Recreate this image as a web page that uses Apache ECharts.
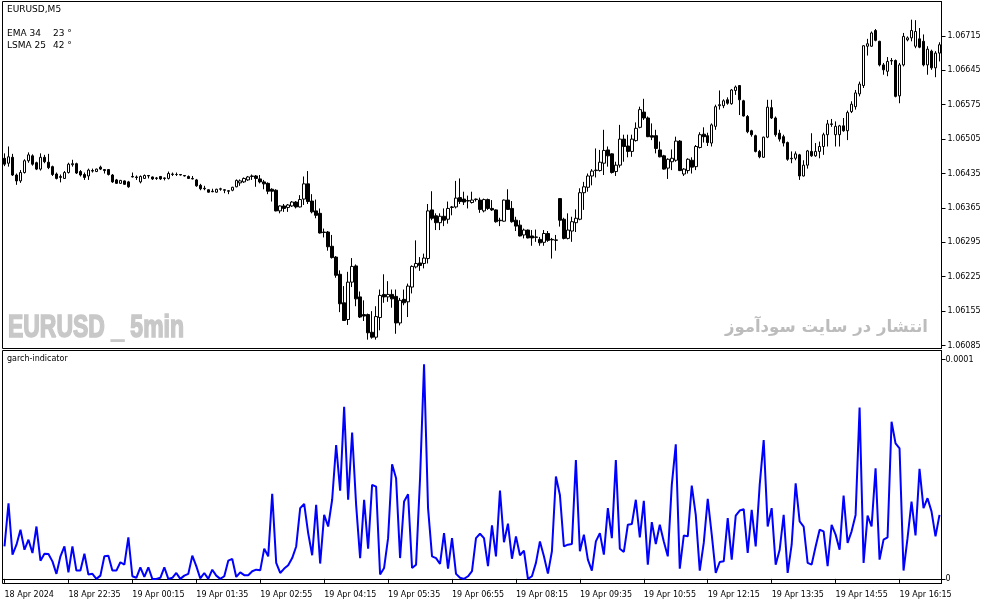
<!DOCTYPE html>
<html>
<head>
<meta charset="utf-8">
<script src="https://cdn.jsdelivr.net/npm/echarts@6/dist/echarts.min.js"></script>
<style>
  html, body { margin: 0; padding: 0; background: #fff; }
  #chartDiv { width: 987px; height: 605px; }
</style>
</head>
<body>
<div id="chartDiv"></div>
<script>
// EURUSD M5 candles: [open, close, low, high]
const ohlc = [
  [1.06466,1.06454,1.06450,1.06476],[1.06456,1.06469,1.06449,1.06490],[1.06468,1.06432,1.06430,1.06475],[1.06432,1.06420,1.06412,1.06435],
  [1.06420,1.06437,1.06416,1.06442],[1.06437,1.06461,1.06435,1.06464],[1.06461,1.06473,1.06457,1.06478],[1.06471,1.06454,1.06451,1.06474],
  [1.06457,1.06444,1.06442,1.06459],[1.06444,1.06468,1.06441,1.06476],[1.06468,1.06459,1.06456,1.06473],[1.06458,1.06447,1.06444,1.06475],
  [1.06449,1.06433,1.06430,1.06451],[1.06434,1.06425,1.06423,1.06437],[1.06427,1.06429,1.06417,1.06433],[1.06425,1.06437,1.06424,1.06440],
  [1.06437,1.06454,1.06435,1.06457],[1.06453,1.06455,1.06449,1.06463],[1.06455,1.06436,1.06434,1.06457],[1.06439,1.06432,1.06429,1.06442],
  [1.06433,1.06427,1.06422,1.06437],[1.06430,1.06442,1.06422,1.06445],[1.06441,1.06440,1.06437,1.06445],[1.06439,1.06444,1.06438,1.06445],
  [1.06448,1.06444,1.06442,1.06451],[1.06443,1.06441,1.06435,1.06444],[1.06443,1.06433,1.06431,1.06444],[1.06432,1.06418,1.06416,1.06434],
  [1.06422,1.06415,1.06414,1.06424],[1.06415,1.06421,1.06414,1.06422],[1.06420,1.06413,1.06412,1.06421],[1.06418,1.06408,1.06406,1.06420],
  [1.06429,1.06428,1.06427,1.06437],[1.06428,1.06427,1.06422,1.06431],[1.06418,1.06429,1.06415,1.06431],[1.06425,1.06431,1.06424,1.06433],
  [1.06431,1.06430,1.06425,1.06432],[1.06428,1.06424,1.06422,1.06429],[1.06425,1.06426,1.06422,1.06428],[1.06429,1.06424,1.06422,1.06430],
  [1.06426,1.06425,1.06421,1.06427],[1.06425,1.06435,1.06423,1.06439],[1.06433,1.06434,1.06430,1.06437],[1.06433,1.06433,1.06430,1.06437],
  [1.06433,1.06432,1.06431,1.06434],[1.06431,1.06430,1.06429,1.06432],[1.06429,1.06425,1.06424,1.06431],[1.06425,1.06424,1.06423,1.06430],
  [1.06422,1.06410,1.06408,1.06424],[1.06411,1.06404,1.06401,1.06414],[1.06405,1.06404,1.06401,1.06410],[1.06402,1.06397,1.06396,1.06403],
  [1.06399,1.06398,1.06397,1.06404],[1.06397,1.06403,1.06396,1.06404],[1.06403,1.06404,1.06400,1.06406],[1.06402,1.06401,1.06395,1.06403],
  [1.06400,1.06399,1.06393,1.06401],[1.06401,1.06407,1.06399,1.06408],[1.06408,1.06421,1.06407,1.06423],[1.06416,1.06420,1.06410,1.06423],
  [1.06418,1.06425,1.06416,1.06427],[1.06422,1.06428,1.06420,1.06430],[1.06429,1.06430,1.06422,1.06433],[1.06430,1.06425,1.06408,1.06432],
  [1.06424,1.06418,1.06415,1.06432],[1.06418,1.06414,1.06403,1.06422],[1.06415,1.06399,1.06393,1.06417],[1.06403,1.06399,1.06378,1.06405],
  [1.06401,1.06359,1.06358,1.06403],[1.06359,1.06369,1.06354,1.06370],[1.06369,1.06364,1.06357,1.06373],[1.06366,1.06371,1.06357,1.06373],
  [1.06369,1.06377,1.06367,1.06379],[1.06377,1.06367,1.06364,1.06379],[1.06367,1.06382,1.06366,1.06391],[1.06383,1.06414,1.06371,1.06429],
  [1.06414,1.06378,1.06373,1.06440],[1.06379,1.06357,1.06354,1.06393],[1.06359,1.06350,1.06344,1.06382],[1.06354,1.06314,1.06313,1.06364],
  [1.06316,1.06315,1.06305,1.06323],[1.06316,1.06286,1.06278,1.06318],[1.06287,1.06264,1.06262,1.06310],[1.06265,1.06228,1.06223,1.06267],
  [1.06230,1.06170,1.06153,1.06238],[1.06172,1.06136,1.06135,1.06206],[1.06138,1.06214,1.06127,1.06235],[1.06214,1.06246,1.06204,1.06263],
  [1.06247,1.06180,1.06165,1.06250],[1.06184,1.06143,1.06141,1.06195],[1.06148,1.06145,1.06135,1.06177],[1.06148,1.06111,1.06097,1.06150],
  [1.06112,1.06102,1.06099,1.06155],[1.06102,1.06144,1.06097,1.06165],[1.06142,1.06187,1.06116,1.06199],[1.06189,1.06184,1.06172,1.06230],
  [1.06184,1.06189,1.06174,1.06216],[1.06189,1.06180,1.06162,1.06199],[1.06185,1.06131,1.06109,1.06199],[1.06131,1.06177,1.06126,1.06182],
  [1.06179,1.06172,1.06167,1.06199],[1.06174,1.06206,1.06143,1.06211],[1.06204,1.06246,1.06191,1.06248],[1.06245,1.06252,1.06242,1.06299],
  [1.06253,1.06248,1.06237,1.06265],[1.06252,1.06263,1.06242,1.06272],[1.06262,1.06359,1.06252,1.06373],[1.06361,1.06344,1.06340,1.06399],
  [1.06349,1.06335,1.06320,1.06354],[1.06335,1.06348,1.06320,1.06354],[1.06348,1.06340,1.06328,1.06364],[1.06342,1.06364,1.06333,1.06378],
  [1.06366,1.06367,1.06350,1.06369],[1.06367,1.06385,1.06364,1.06420],[1.06386,1.06378,1.06373,1.06425],[1.06383,1.06377,1.06371,1.06398],
  [1.06380,1.06379,1.06364,1.06390],[1.06376,1.06381,1.06374,1.06398],[1.06382,1.06383,1.06378,1.06384],[1.06381,1.06362,1.06355,1.06386],
  [1.06359,1.06382,1.06356,1.06384],[1.06382,1.06364,1.06361,1.06384],[1.06364,1.06361,1.06359,1.06381],[1.06361,1.06337,1.06335,1.06362],
  [1.06340,1.06339,1.06328,1.06345],[1.06338,1.06381,1.06337,1.06382],[1.06381,1.06362,1.06361,1.06403],[1.06364,1.06337,1.06335,1.06379],
  [1.06340,1.06328,1.06318,1.06347],[1.06330,1.06308,1.06307,1.06340],[1.06310,1.06320,1.06303,1.06323],[1.06320,1.06304,1.06303,1.06321],
  [1.06308,1.06304,1.06288,1.06320],[1.06305,1.06306,1.06296,1.06321],[1.06301,1.06294,1.06288,1.06306],[1.06295,1.06313,1.06288,1.06320],
  [1.06313,1.06299,1.06296,1.06318],[1.06301,1.06300,1.06262,1.06304],[1.06299,1.06300,1.06278,1.06310],[1.06384,1.06340,1.06327,1.06385],
  [1.06342,1.06303,1.06301,1.06345],[1.06303,1.06320,1.06301,1.06354],[1.06318,1.06337,1.06296,1.06347],[1.06335,1.06344,1.06316,1.06362],
  [1.06342,1.06396,1.06340,1.06405],[1.06396,1.06408,1.06361,1.06418],[1.06407,1.06430,1.06398,1.06435],[1.06430,1.06440,1.06411,1.06444],
  [1.06441,1.06442,1.06427,1.06486],[1.06441,1.06458,1.06439,1.06483],[1.06456,1.06482,1.06432,1.06524],[1.06483,1.06471,1.06449,1.06490],
  [1.06475,1.06437,1.06435,1.06476],[1.06439,1.06452,1.06430,1.06459],[1.06452,1.06505,1.06447,1.06534],[1.06505,1.06490,1.06459,1.06514],
  [1.06491,1.06480,1.06468,1.06514],[1.06480,1.06505,1.06469,1.06514],[1.06502,1.06527,1.06500,1.06539],[1.06529,1.06565,1.06527,1.06571],
  [1.06560,1.06548,1.06544,1.06587],[1.06548,1.06510,1.06509,1.06551],[1.06512,1.06509,1.06503,1.06537],[1.06512,1.06486,1.06476,1.06524],
  [1.06483,1.06469,1.06468,1.06500],[1.06471,1.06444,1.06443,1.06473],[1.06446,1.06464,1.06424,1.06466],[1.06459,1.06466,1.06442,1.06484],
  [1.06462,1.06501,1.06459,1.06510],[1.06501,1.06441,1.06440,1.06503],[1.06434,1.06444,1.06430,1.06446],[1.06441,1.06464,1.06435,1.06466],
  [1.06462,1.06448,1.06435,1.06468],[1.06449,1.06490,1.06442,1.06493],[1.06488,1.06514,1.06486,1.06519],[1.06515,1.06510,1.06498,1.06529],
  [1.06512,1.06498,1.06491,1.06518],[1.06497,1.06534,1.06490,1.06537],[1.06531,1.06571,1.06524,1.06575],[1.06573,1.06575,1.06565,1.06604],
  [1.06573,1.06583,1.06568,1.06586],[1.06585,1.06578,1.06575,1.06590],[1.06577,1.06605,1.06575,1.06607],[1.06604,1.06611,1.06595,1.06614],
  [1.06614,1.06585,1.06554,1.06615],[1.06583,1.06552,1.06551,1.06585],[1.06551,1.06520,1.06517,1.06554],[1.06522,1.06514,1.06510,1.06524],
  [1.06512,1.06480,1.06478,1.06514],[1.06480,1.06469,1.06466,1.06483],[1.06468,1.06509,1.06467,1.06510],[1.06509,1.06570,1.06507,1.06585],
  [1.06569,1.06548,1.06546,1.06585],[1.06548,1.06514,1.06510,1.06551],[1.06517,1.06505,1.06500,1.06524],[1.06510,1.06497,1.06490,1.06514],
  [1.06498,1.06464,1.06461,1.06500],[1.06466,1.06465,1.06456,1.06480],[1.06466,1.06475,1.06462,1.06480],[1.06473,1.06430,1.06422,1.06475],
  [1.06430,1.06452,1.06429,1.06462],[1.06452,1.06481,1.06445,1.06483],[1.06480,1.06471,1.06469,1.06517],[1.06471,1.06480,1.06469,1.06497],
  [1.06480,1.06490,1.06466,1.06500],[1.06490,1.06514,1.06473,1.06518],[1.06514,1.06536,1.06490,1.06544],[1.06536,1.06535,1.06530,1.06546],
  [1.06514,1.06531,1.06490,1.06541],[1.06514,1.06532,1.06490,1.06534],[1.06532,1.06522,1.06520,1.06548],[1.06522,1.06559,1.06503,1.06563],
  [1.06561,1.06576,1.06558,1.06582],[1.06571,1.06599,1.06565,1.06605],[1.06597,1.06617,1.06592,1.06622],[1.06614,1.06695,1.06609,1.06696],
  [1.06694,1.06699,1.06675,1.06709],[1.06694,1.06721,1.06693,1.06724],[1.06726,1.06706,1.06704,1.06729],[1.06704,1.06656,1.06653,1.06705],
  [1.06656,1.06646,1.06636,1.06660],[1.06643,1.06663,1.06633,1.06672],[1.06665,1.06664,1.06656,1.06670],[1.06665,1.06592,1.06590,1.06667],
  [1.06593,1.06656,1.06578,1.06660],[1.06656,1.06714,1.06653,1.06721],[1.06707,1.06711,1.06704,1.06714],[1.06711,1.06726,1.06704,1.06748],
  [1.06694,1.06724,1.06690,1.06747],[1.06709,1.06692,1.06690,1.06731],[1.06704,1.06656,1.06653,1.06718],[1.06656,1.06688,1.06636,1.06694],
  [1.06684,1.06650,1.06646,1.06687],[1.06650,1.06680,1.06631,1.06684],[1.06680,1.06697,1.06663,1.06702]
];

// garch-indicator values, one per candle
const garch = [
  14.8e-6,34.5e-6,11.1e-6,15.6e-6,22.4e-6,13.3e-6,17.9e-6,11.8e-6,23.9e-6,8.3e-6,
  11.5e-6,11.4e-6,8.0e-6,2.3e-6,10.3e-6,14.8e-6,3.0e-6,14.8e-6,3.8e-6,3.8e-6,
  11.5e-6,2.0e-6,2.3e-6,0,1.5e-6,10.3e-6,10.6e-6,3.8e-6,3.8e-6,7.6e-6,
  6.5e-6,18.9e-6,1.2e-6,0.5e-6,5.3e-6,0.9e-6,5.3e-6,0,0,0.5e-6,
  5.3e-6,0,0.5e-6,2.7e-6,0,1.5e-6,2.3e-6,10.6e-6,5.8e-6,0.2e-6,
  2.7e-6,0,4.2e-6,1.5e-6,0,1.2e-6,8.3e-6,9.1e-6,0.9e-6,3.0e-6,
  1.7e-6,1.7e-6,3.5e-6,4.2e-6,3.9e-6,13.8e-6,10.3e-6,38.8e-6,7.3e-6,2.7e-6,
  4.7e-6,6.2e-6,9.5e-6,14.8e-6,32.3e-6,34.2e-6,20.9e-6,10.8e-6,33.8e-6,7.0e-6,
  29.2e-6,23.9e-6,36.1e-6,61.1e-6,40.2e-6,78.5e-6,36.1e-6,66.8e-6,33.8e-6,9.5e-6,
  36.1e-6,13.8e-6,42.9e-6,42.1e-6,2.0e-6,5.0e-6,18.6e-6,52.3e-6,45.9e-6,9.5e-6,
  35.3e-6,38.6e-6,5.0e-6,6.5e-6,45.9e-6,97.9e-6,32.3e-6,10.3e-6,9.5e-6,6.8e-6,
  20.9e-6,4.7e-6,18.6e-6,2.3e-6,0.5e-6,0,1.2e-6,3.5e-6,18.6e-6,
  20.6e-6,18.6e-6,5.8e-6,24.4e-6,10.3e-6,40.3e-6,16.7e-6,25.2e-6,9.2e-6,19.4e-6,
  10.8e-6,12.9e-6,0,1.2e-6,7.3e-6,17.1e-6,10.3e-6,2.4e-6,12.6e-6,46.7e-6,
  38.3e-6,14.8e-6,15.6e-6,15.9e-6,54.2e-6,12.6e-6,20.2e-6,8.8e-6,3.8e-6,17.1e-6,
  20.9e-6,11.1e-6,32.3e-6,18.6e-6,54.2e-6,13.8e-6,12.3e-6,24.7e-6,25.0e-6,36.1e-6,
  18.9e-6,35.6e-6,6.5e-6,25.9e-6,15.9e-6,24.7e-6,17.1e-6,10.3e-6,42.9e-6,61.4e-6,
  4.7e-6,19.8e-6,19.4e-6,42.6e-6,29.2e-6,3.8e-6,16.4e-6,36.5e-6,
  20.2e-6,2.7e-6,7.7e-6,8.0e-6,27.7e-6,8.8e-6,28.9e-6,31.2e-6,31.8e-6,11.8e-6,
  31.5e-6,14.8e-6,42.9e-6,63.3e-6,23.9e-6,32.3e-6,6.5e-6,13.3e-6,29.2e-6,2.7e-6,
  15.6e-6,43.6e-6,26.2e-6,23.9e-6,7.3e-6,6.5e-6,14.8e-6,22.4e-6,21.7e-6,5.8e-6,
  24.7e-6,20.2e-6,13.3e-6,38.0e-6,16.4e-6,21.7e-6,29.2e-6,78.2e-6,7.3e-6,28.9e-6,
  23.9e-6,50.5e-6,8.8e-6,17.9e-6,18.9e-6,71.7e-6,61.8e-6,59.5e-6,3.8e-6,18.6e-6,
  35.3e-6,19.8e-6,50.2e-6,32.3e-6,36.8e-6,30.8e-6,19.4e-6,29.2e-6
];

// time labels, one every 16 bars
const timeLabels = [
  '18 Apr 2024', '18 Apr 22:35', '19 Apr 00:15', '19 Apr 01:35', '19 Apr 02:55',
  '19 Apr 04:15', '19 Apr 05:35', '19 Apr 06:55', '19 Apr 08:15', '19 Apr 09:35',
  '19 Apr 10:55', '19 Apr 12:15', '19 Apr 13:35', '19 Apr 14:55', '19 Apr 16:15'
];
const LABEL_STEP = 16;

const priceTicks = [1.06085, 1.06155, 1.06225, 1.06295, 1.06365, 1.06435, 1.06505, 1.06575, 1.06645, 1.06715];
const garchTicks = [0, 0.0001];

const chart = echarts.init(document.getElementById('chartDiv'));
const bars = ohlc.map((d, i) => String(i));
const FONT = 'DejaVu Sans';

function everyStep(idx) {
  return idx % LABEL_STEP === 0;
}

const option = {
  animation: false,
  backgroundColor: '#fff',
  grid: [
    { left: 2.5, right: 45.5, top: 1.5, height: 347, show: true, borderColor: '#000', borderWidth: 1, backgroundColor: '#fff' },
    { left: 2.5, right: 45.5, top: 350.5, height: 233, show: true, borderColor: '#000', borderWidth: 1, backgroundColor: '#fff' }
  ],
  xAxis: [
    {
      type: 'category', gridIndex: 0, data: bars, boundaryGap: true,
      axisLine: { show: false }, axisTick: { show: false }, axisLabel: { show: false }, splitLine: { show: false }
    },
    {
      type: 'category', gridIndex: 1, data: bars, boundaryGap: true,
      axisLine: { show: true, lineStyle: { color: '#000', width: 1 } },
      axisTick: { show: true, alignWithLabel: true, interval: everyStep, length: 4, lineStyle: { color: '#000' } },
      axisLabel: {
        interval: everyStep, align: 'left', margin: 7, color: '#000',
        fontFamily: FONT, fontSize: 8,
        formatter: (v, idx) => timeLabels[idx / LABEL_STEP] || ''
      },
      splitLine: { show: false }
    }
  ],
  yAxis: [
    {
      type: 'value', gridIndex: 0, position: 'right', min: 1.06079, max: 1.06785, scale: true,
      axisLine: { show: true, lineStyle: { color: '#000' } },
      axisTick: { show: true, length: 4, customValues: priceTicks, lineStyle: { color: '#000' } },
      axisLabel: {
        customValues: priceTicks, margin: 6, color: '#000', fontFamily: FONT, fontSize: 8,
        formatter: v => v.toFixed(5)
      },
      splitLine: { show: false }
    },
    {
      type: 'value', gridIndex: 1, position: 'right', min: -0.0000021, max: 0.0001042,
      axisLine: { show: true, lineStyle: { color: '#000' } },
      axisTick: { show: true, length: 4, customValues: garchTicks, lineStyle: { color: '#000' } },
      axisLabel: {
        customValues: garchTicks, margin: 4, color: '#000', fontFamily: FONT, fontSize: 8,
        formatter: v => (v === 0 ? '0' : v.toFixed(4))
      },
      splitLine: { show: false }
    }
  ],
  series: [
    {
      name: 'EURUSD', type: 'candlestick', xAxisIndex: 0, yAxisIndex: 0,
      barWidth: 3,
      itemStyle: { color: '#fff', color0: '#000', borderColor: '#000', borderColor0: '#000', borderWidth: 1 },
      data: ohlc
    },
    {
      name: 'garch-indicator', type: 'line', xAxisIndex: 1, yAxisIndex: 1,
      showSymbol: false, symbol: 'none',
      lineStyle: { color: '#0000ff', width: 2 },
      data: garch
    }
  ],
  graphic: [
    { type: 'text', left: 7, top: 5, style: { text: 'EURUSD,M5', fill: '#000', font: '9px "DejaVu Sans"' } },
    { type: 'text', left: 7, top: 29, style: { text: 'EMA 34', fill: '#000', font: '9px "DejaVu Sans"' } },
    { type: 'text', left: 53, top: 29, style: { text: '23 °', fill: '#000', font: '9px "DejaVu Sans"' } },
    { type: 'text', left: 7, top: 41, style: { text: 'LSMA 25', fill: '#000', font: '9px "DejaVu Sans"' } },
    { type: 'text', left: 53, top: 41, style: { text: '42 °', fill: '#000', font: '9px "DejaVu Sans"' } },
    { type: 'text', left: 7, top: 355, style: { text: 'garch-indicator', fill: '#000', font: '8px "DejaVu Sans"' } },
    {
      type: 'text', x: 8, y: 328, scaleX: 0.74, silent: true,
      style: {
        text: 'EURUSD _ 5min', fill: '#c8c8c8', stroke: '#c8c8c8', lineWidth: 1.6,
        font: 'bold 31px "Liberation Sans"', textVerticalAlign: 'middle'
      }
    },
    {
      type: 'text', x: 928, y: 328, silent: true,
      style: { text: 'انتشار در سایت سودآموز', fill: '#bcbcbc', font: 'bold 16.5px "DejaVu Sans"', textAlign: 'right', textVerticalAlign: 'middle' }
    }
  ]
};

chart.setOption(option);
</script>
</body>
</html>
